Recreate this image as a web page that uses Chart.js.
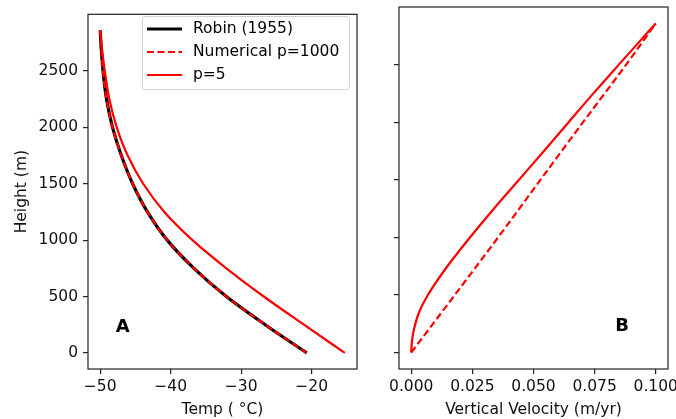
<!DOCTYPE html>
<html>
<head>
<meta charset="utf-8">
<script src="https://cdn.jsdelivr.net/npm/chart.js@4.4.0/dist/chart.umd.min.js"></script>
<style>
  html, body { margin: 0; padding: 0; background: #fff; overflow: hidden; }
  #wrap { position: relative; width: 676px; height: 419px; overflow: hidden; }
  canvas { position: absolute; top: 0; }
  #tempChart { left: 0; }
  #velChart { left: 370px; }
</style>
</head>
<body>
<div id="wrap">
  <canvas id="tempChart" width="370" height="419"></canvas>
  <canvas id="velChart" width="330" height="419"></canvas>
</div>
<script>
// Panel A: temperature (°C) against height above the bed (m)
const robinHeight = [0, 250, 500, 750, 1000, 1250, 1500, 1750, 2000, 2250, 2500, 2700, 2860]
const robinTemp = [-20.7, -26.6, -32.1, -36.7, -40.5, -43.3, -45.4, -47.0, -48.25, -49.1, -49.6, -49.85, -50.0]
const numHeight = [0, 250, 500, 750, 1000, 1250, 1500, 1750, 2000, 2250, 2500, 2700, 2860]
const numTemp = [-20.7, -26.6, -32.1, -36.7, -40.5, -43.3, -45.4, -47.0, -48.25, -49.1, -49.6, -49.85, -50.0]
const p5Height = [0, 250, 500, 750, 1000, 1250, 1500, 1750, 2000, 2250, 2500, 2700, 2860]
const p5Temp = [-15.3, -21.1, -26.8, -32.1, -36.9, -40.9, -43.9, -46.1, -47.65, -48.7, -49.35, -49.75, -50.0]

// Panel B: vertical velocity (m/yr) against height (m)
const velNumHeight = [0, 500, 1000, 1500, 2000, 2500, 2860]
const velNum = [0, 0.0178, 0.0355, 0.0528, 0.0702, 0.0878, 0.1]
const velP5Height = [0, 100, 200, 350, 500, 750, 1000, 1250, 1500, 1750, 2000, 2250, 2500, 2700, 2860]
const velP5 = [0, 0.0003, 0.0011, 0.0032, 0.0068, 0.0148, 0.024, 0.0338, 0.044, 0.0542, 0.0643, 0.0744, 0.0848, 0.0932, 0.1]

const tempTicks = [-50, -40, -30, -20]
const heightTicks = [0, 500, 1000, 1500, 2000, 2500]
const velTicks = [0, 0.025, 0.05, 0.075, 0.1]

const seriesNames = ['Robin (1955)', 'Numerical p=1000', 'p=5']

Chart.defaults.font.family = 'DejaVu Sans'
Chart.defaults.font.size = 15.5
Chart.defaults.color = '#111'

const pts = (xs, ys) => xs.map((x, i) => ({ x: x, y: ys[i] }))
const minus = s => String(s).replace('-', '\u2212')

// frame all four sides like matplotlib spines
const framePlugin = {
  id: 'frame',
  afterDatasetsDraw(chart) {
    const { ctx, chartArea: a } = chart
    ctx.save()
    ctx.strokeStyle = '#222'
    ctx.lineWidth = 1.2
    ctx.strokeRect(a.left, a.top, a.right - a.left, a.bottom - a.top)
    ctx.restore()
  }
}

// panel letter (A / B) placed in data coordinates
const letterPlugin = {
  id: 'letter',
  afterDraw(chart, args, opts) {
    const { ctx, scales } = chart
    ctx.save()
    ctx.font = 'bold 18px "DejaVu Sans"'
    ctx.fillStyle = '#000'
    ctx.textAlign = 'center'
    ctx.textBaseline = 'middle'
    ctx.fillText(opts.text, scales.x.getPixelForValue(opts.x), scales.y.getPixelForValue(opts.y))
    ctx.restore()
  }
}

// legend box drawn inside the plot, upper right
const boxLegend = {
  id: 'boxLegend',
  afterDraw(chart) {
    const { ctx } = chart
    const x0 = 142, y0 = 16, w = 207, h = 73
    ctx.save()
    ctx.fillStyle = 'rgba(255,255,255,0.8)'
    ctx.strokeStyle = '#d0d0d0'
    ctx.lineWidth = 1
    ctx.beginPath()
    ctx.roundRect(x0 + 0.5, y0 + 0.5, w, h, 3)
    ctx.fill()
    ctx.stroke()
    chart.data.datasets.forEach((ds, i) => {
      const y = 29 + i * 23
      ctx.strokeStyle = ds.borderColor
      ctx.lineWidth = ds.borderWidth
      ctx.setLineDash(ds.borderDash || [])
      ctx.beginPath()
      ctx.moveTo(147, y)
      ctx.lineTo(182, y)
      ctx.stroke()
      ctx.setLineDash([])
      ctx.fillStyle = '#000'
      ctx.font = '15.5px "DejaVu Sans"'
      ctx.textBaseline = 'middle'
      ctx.fillText(ds.label, 193, y)
    })
    ctx.restore()
  }
}

const gridOpts = { drawOnChartArea: false, drawTicks: true, tickLength: 5, color: '#222', lineWidth: 1.2 }
const heightRange = { min: -143, max: 3003 }
const dash = [7, 3.5]

const baseOptions = (padRight, letter) => ({
  responsive: false,
  animation: false,
  indexAxis: 'y',
  elements: {
    point: { radius: 0, hoverRadius: 0 },
    line: { cubicInterpolationMode: 'monotone', fill: false }
  },
  layout: { padding: { left: 0, top: 7, right: padRight, bottom: 0 } },
  plugins: {
    legend: { display: false },
    tooltip: { enabled: false },
    letter: letter
  }
})

const tempOpts = baseOptions(13, { text: 'A', x: -46.8, y: 225 })
tempOpts.scales = {
  x: {
    type: 'linear', min: -51.73, max: -13.57,
    afterBuildTicks: s => { s.ticks = tempTicks.map(v => ({ value: v })) },
    afterFit: s => { s.height = 50 },
    grid: gridOpts, border: { display: false },
    ticks: { padding: 4, maxRotation: 0, autoSkip: false, callback: v => minus(v) },
    title: { display: true, text: 'Temp ( \u00b0C)', padding: { top: 1, bottom: 0 } }
  },
  y: {
    type: 'linear', min: heightRange.min, max: heightRange.max,
    afterBuildTicks: s => { s.ticks = heightTicks.map(v => ({ value: v })) },
    afterFit: s => { s.width = 88 },
    grid: gridOpts, border: { display: false },
    ticks: { padding: 5, callback: v => v },
    title: { display: true, text: 'Height (m)', padding: { top: 13, bottom: 0 } }
  }
}

new Chart(document.getElementById('tempChart'), {
  type: 'line',
  data: {
    datasets: [{
      label: seriesNames[0],
      data: pts(robinTemp, robinHeight),
      borderColor: '#000',
      borderWidth: 3.2,
      order: 2
    }, {
      label: seriesNames[1],
      data: pts(numTemp, numHeight),
      borderColor: '#ff0000',
      borderWidth: 2.2,
      borderDash: dash,
      order: 0
    }, {
      label: seriesNames[2],
      data: pts(p5Temp, p5Height),
      borderColor: '#ff0000',
      borderWidth: 2.2,
      order: 1
    }]
  },
  options: tempOpts,
  plugins: [framePlugin, letterPlugin, boxLegend]
})

const velOpts = baseOptions(32, { text: 'B', x: 0.0862, y: 225 })
velOpts.scales = {
  x: {
    type: 'linear', min: -0.005, max: 0.105,
    afterBuildTicks: s => { s.ticks = velTicks.map(v => ({ value: v })) },
    afterFit: s => { s.height = 50 },
    grid: gridOpts, border: { display: false },
    ticks: { padding: 4, maxRotation: 0, autoSkip: false, callback: v => Number(v).toFixed(3) },
    title: { display: true, text: 'Vertical Velocity (m/yr)', padding: { top: 1, bottom: 0 } }
  },
  y: {
    type: 'linear', min: heightRange.min, max: heightRange.max,
    afterBuildTicks: s => { s.ticks = heightTicks.map(v => ({ value: v })) },
    afterFit: s => { s.width = 29 },
    grid: gridOpts, border: { display: false },
    ticks: { display: false }
  }
}

new Chart(document.getElementById('velChart'), {
  type: 'line',
  data: {
    datasets: [{
      label: seriesNames[1],
      data: pts(velNum, velNumHeight),
      borderColor: '#ff0000',
      borderWidth: 2.2,
      borderDash: dash
    }, {
      label: seriesNames[2],
      data: pts(velP5, velP5Height),
      borderColor: '#ff0000',
      borderWidth: 2.2
    }]
  },
  options: velOpts,
  plugins: [framePlugin, letterPlugin]
})
</script>
</body>
</html>
